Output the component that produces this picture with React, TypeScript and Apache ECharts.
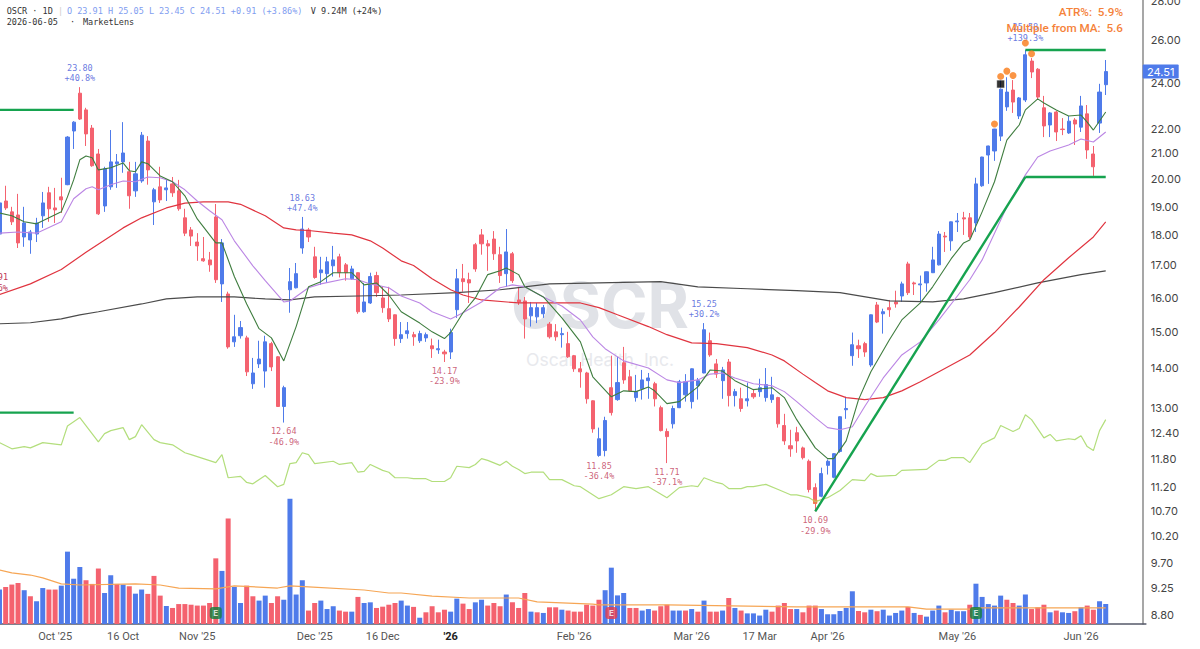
import React, { useEffect, useRef } from "react";
import * as echarts from "echarts";

// [open, high, low, close] per session, oldest first
const ohlc: number[][] = [
[18.04,19.2,17.64,19.13],[19.20,19.76,18.88,18.95],[18.81,18.99,18.35,18.46],[18.70,19.46,17.57,17.74],[17.94,18.99,17.61,18.42],
[17.84,18.18,17.38,18.11],[18.04,18.60,17.77,18.42],[18.67,19.53,18.25,19.13],[19.50,19.72,18.46,18.92],[18.95,19.68,18.42,18.88],
[19.35,20.06,18.77,19.24],[19.80,21.70,19.78,21.66],[21.91,22.32,21.18,22.28],[23.53,23.80,22.37,22.41],[22.80,22.89,21.30,21.79],
[22.03,22.16,20.48,20.52],[20.98,21.18,18.70,18.74],[19.02,20.48,18.81,20.40],[19.72,21.95,19.61,20.67],[20.60,20.98,19.68,20.67],
[20.67,22.28,20.25,21.02],[20.29,20.67,18.92,19.39],[19.57,20.67,19.35,20.21],[19.94,21.87,19.87,21.74],[21.50,21.70,19.80,20.36],
[19.17,19.68,18.35,19.61],[19.72,20.48,19.13,19.24],[19.61,19.98,19.20,19.68],[19.83,20.09,19.35,19.50],[19.57,19.98,18.85,18.92],
[18.60,18.92,17.97,18.07],[18.18,18.28,17.64,17.97],[17.77,18.07,17.15,17.64],[17.22,17.94,17.12,17.15],[17.18,17.44,16.80,17.02],
[18.63,19.09,16.45,16.55],[16.42,17.87,15.87,17.74],[16.11,16.18,14.53,14.58],[14.72,15.49,14.58,14.86],[14.89,15.31,14.81,15.12],
[14.83,14.89,13.80,13.91],[13.60,14.28,13.47,13.88],[14.12,14.75,14.01,14.25],[13.93,14.89,13.50,14.72],[14.67,14.72,13.93,14.04],
[14.31,14.33,13.02,13.03],[13.03,13.55,12.64,13.50],[16.24,16.92,15.55,16.49],[16.30,17.08,16.28,16.74],[17.57,18.63,17.38,18.21],
[18.18,18.25,17.77,17.94],[17.28,17.61,16.58,16.62],[16.77,17.28,16.39,16.86],[16.74,17.28,16.45,17.12],[16.99,17.64,16.65,17.18],
[17.28,17.38,16.62,16.77],[17.02,17.08,16.52,16.77],[16.58,16.99,16.55,16.89],[16.77,16.78,15.52,15.58],[15.58,16.45,15.55,15.87],
[15.84,16.77,15.81,16.65],[16.68,16.80,16.02,16.15],[15.99,16.33,15.55,15.70],[15.67,16.33,15.28,15.37],[15.49,15.50,14.61,14.81],
[14.81,15.28,14.69,14.92],[14.95,15.28,14.81,15.03],[14.92,15.00,14.61,14.86],[14.75,15.03,14.69,14.95],[14.83,14.98,14.72,14.92],
[14.61,14.81,14.28,14.53],[14.50,14.78,14.39,14.53],[14.44,14.50,14.17,14.39],[14.44,15.09,14.25,14.98],[15.64,16.89,15.40,16.58],
[16.58,17.05,16.18,16.49],[16.55,16.77,15.84,16.45],[17.68,17.74,16.80,16.89],[18.01,18.21,17.35,17.71],[17.71,17.84,16.83,17.64],
[17.87,18.14,17.18,17.38],[17.35,17.61,16.45,16.68],[16.74,18.21,16.33,17.44],[17.38,17.44,16.45,16.52],[15.93,16.33,15.78,15.87],
[15.90,16.02,14.81,15.37],[15.46,15.87,15.15,15.70],[15.43,15.84,15.25,15.70],[15.52,15.78,15.40,15.70],[15.22,15.28,14.81,14.86],
[15.00,15.22,14.75,14.86],[14.92,15.12,14.56,14.95],[14.67,15.00,14.28,14.31],[14.34,14.36,13.91,13.99],[13.99,14.17,13.50,13.91],
[13.88,13.91,13.10,13.22],[13.17,13.18,12.40,12.49],[11.88,12.52,11.85,12.26],[11.99,12.78,11.86,12.69],[13.50,14.34,12.81,12.88],
[13.20,14.31,13.17,13.63],[14.15,14.58,13.60,13.70],[13.78,13.96,13.40,13.42],[13.25,13.83,13.15,13.40],[13.47,13.96,13.20,13.70],
[13.68,13.88,13.22,13.75],[13.60,13.65,13.03,13.22],[13.00,13.05,12.43,12.45],[12.43,12.50,11.71,12.31],[12.61,13.05,12.50,12.98],
[13.00,13.70,12.99,13.65],[13.32,13.85,13.15,13.65],[13.15,14.00,12.98,13.99],[13.55,13.75,13.20,13.68],[13.88,15.25,13.87,15.06],
[14.75,14.98,14.31,14.36],[14.12,14.25,13.75,13.85],[13.68,14.04,13.22,13.96],[14.17,14.25,13.03,13.30],[13.30,13.47,13.03,13.40],
[13.22,13.50,12.90,12.98],[13.17,13.63,13.03,13.22],[13.35,13.47,13.22,13.27],[13.40,13.73,13.27,13.50],[13.25,14.01,13.15,13.58],
[13.20,13.78,13.12,13.32],[13.25,13.27,12.52,12.61],[12.57,12.85,12.12,12.21],[12.10,12.47,11.85,12.03],[12.40,12.54,11.94,12.21],
[12.05,12.08,11.79,11.83],[11.75,11.79,11.08,11.14],[11.18,11.27,10.69,10.85],[11.00,11.61,10.98,11.48],[11.66,11.79,11.46,11.75],
[11.40,11.93,11.38,11.92],[11.97,12.79,11.94,12.78],[12.95,13.27,12.73,12.98],[14.34,14.98,14.07,14.64],[14.61,14.78,14.28,14.53],
[14.67,14.72,14.31,14.44],[14.09,15.50,14.04,15.49],[15.78,15.87,15.25,15.28],[15.52,15.67,14.95,15.58],[15.70,15.93,15.43,15.64],
[15.87,16.21,15.70,15.81],[16.05,16.49,15.87,16.42],[17.05,17.12,16.08,16.15],[16.45,16.49,16.08,16.42],[16.39,16.68,15.87,16.42],
[16.45,16.81,16.18,16.80],[16.77,17.61,16.76,17.18],[17.02,18.14,17.00,18.04],[17.97,18.11,17.44,17.94],[17.81,18.47,17.48,18.46],
[18.46,18.77,18.11,18.49],[18.60,18.81,18.01,18.56],[18.60,18.77,17.87,17.94],[18.42,20.06,18.11,19.83],[19.76,20.87,19.72,20.86],
[20.94,21.31,19.83,21.30],[21.10,22.00,20.71,21.99],[21.70,24.16,21.50,23.71],[22.93,24.25,22.76,23.58],[23.67,24.12,22.67,23.14],
[22.54,23.36,22.41,23.32],[23.23,25.53,23.14,25.30],[25.00,25.14,24.21,24.49],[24.62,24.67,23.23,23.36],[22.89,23.41,21.66,22.12],
[22.16,22.71,21.66,22.67],[22.71,22.76,21.50,21.87],[21.99,22.45,21.74,21.97],[21.83,22.54,21.79,22.32],[22.37,22.45,21.34,22.20],
[22.07,23.41,21.87,22.97],[22.63,23.01,20.79,21.14],[20.98,21.30,20.13,20.48],[22.24,23.95,21.83,23.58],[23.91,25.05,23.45,24.51],
];

// volume in millions of shares
const volumes: number[] = [
15.9,17.1,18.2,18.9,15.6,12.8,10.5,16.6,15.9,15.9,
17.7,33.4,20.9,26.3,20.2,18.5,25.6,14.3,22.5,18.5,
18.2,17.4,14.0,15.9,13.9,22.2,13.1,8.3,7.4,9.2,
9.2,8.9,8.5,8.5,9.7,30.3,24.5,48.7,17.1,9.7,
17.7,12.8,10.8,13.1,9.7,12.8,11.2,57.8,13.6,20.2,
6.2,9.7,10.8,6.9,8.2,6.2,5.7,5.7,12.5,9.7,
10.0,7.4,8.0,8.9,9.7,10.8,8.5,7.9,2.9,5.4,
8.2,5.4,6.6,5.7,11.7,9.4,6.9,10.0,11.2,8.5,
9.7,8.2,13.6,10.0,7.4,14.3,5.7,5.4,5.1,7.7,
7.7,6.6,6.2,5.7,5.7,8.9,8.5,11.2,15.6,26.0,
13.2,14.3,7.4,7.4,6.2,6.9,6.2,8.2,8.9,6.2,
6.2,6.2,6.9,5.7,10.8,5.7,5.7,6.2,12.0,7.4,
6.2,4.9,4.9,3.9,6.6,5.7,8.5,9.7,6.9,6.9,
5.4,8.5,8.5,6.9,4.5,4.5,6.0,7.4,15.1,6.0,
5.4,6.6,5.9,6.6,3.9,5.1,6.2,7.9,5.1,4.2,
3.4,6.2,8.5,5.4,6.6,5.9,5.9,8.9,18.6,12.5,
9.2,8.5,13.1,11.2,9.7,8.5,13.6,6.9,7.7,8.9,
5.4,6.2,5.4,5.1,5.9,7.7,8.5,6.6,10.5,9.24,
];
const volumeIsUp: number[] = [
1,0,0,0,1,0,1,1,0,0,
1,1,1,1,0,0,0,1,1,0,
1,0,1,1,0,0,0,1,0,0,
0,0,0,0,0,0,1,0,1,1,
0,0,1,1,0,0,1,1,1,1,
0,0,1,1,1,0,0,1,0,1,
1,0,0,0,0,1,1,0,1,0,
0,0,0,1,1,0,0,1,1,0,
0,0,1,0,0,0,1,0,1,0,
0,1,0,0,0,0,0,0,1,1,
1,1,0,0,1,1,0,0,0,1,
1,0,1,0,1,0,0,1,0,1,
0,1,1,1,1,0,0,0,0,1,
0,0,0,1,1,1,1,1,1,0,
0,1,0,1,1,1,1,0,1,0,
1,1,1,0,1,1,1,0,1,1,
1,1,1,0,0,1,1,0,0,0,
1,0,1,1,0,1,0,0,1,1,
];

// [session index, value]
const maFast: number[][] = [[0,18.77],[2,18.67],[4,18.46],[6,18.39],[10,18.81],[11,19.35],[12,19.98],[13,20.75],[14,20.90],[15,20.83],[16,20.36],[18,20.44],[20,20.63],[21,20.33],[22,20.29],[23,20.67],[24,20.60],[26,20.13],[28,19.91],[30,19.39],[32,18.56],[35,17.74],[36,17.74],[38,16.65],[40,15.81],[42,15.09],[44,14.83],[46,14.20],[48,15.15],[50,16.33],[52,16.49],[54,16.77],[57,16.77],[59,16.39],[61,16.45],[63,16.08],[65,15.58],[68,15.25],[70,15.00],[72,14.81],[73,14.98],[75,15.55],[77,15.99],[79,16.71],[81,16.83],[82,16.92],[84,16.71],[85,16.33],[88,16.02],[91,15.40],[94,14.72],[96,13.78],[99,13.27],[101,13.42],[103,13.40],[105,13.52],[106,13.42],[108,13.10],[110,13.15],[113,13.52],[115,13.96],[117,13.93],[119,13.68],[122,13.45],[125,13.50],[127,13.25],[129,12.71],[132,12.05],[134,11.81],[135,11.81],[137,12.21],[139,13.20],[141,13.91],[144,14.78],[146,15.34],[149,15.84],[151,16.33],[154,17.22],[156,17.74],[157,17.84],[159,18.81],[161,19.91],[163,21.54],[165,22.16],[166,22.80],[168,23.28],[169,23.10],[171,22.80],[173,22.54],[175,22.58],[176,22.28],[177,21.95],[179,22.71]];
const maMid: number[][] = [[0,18.07],[3,18.11],[6,18.07],[10,18.46],[12,19.28],[14,19.65],[15,19.72],[16,19.61],[18,19.80],[20,19.94],[22,19.91],[24,20.09],[26,20.06],[28,19.91],[30,19.61],[32,19.20],[34,18.85],[36,18.53],[38,17.81],[41,16.99],[43,16.52],[46,15.87],[47,15.90],[50,16.30],[52,16.42],[56,16.58],[58,16.55],[60,16.42],[63,16.30],[65,16.05],[68,15.84],[70,15.58],[73,15.37],[75,15.55],[78,15.87],[81,16.30],[83,16.39],[85,16.33],[88,16.02],[91,15.75],[94,15.34],[96,14.86],[98,14.53],[101,14.20],[105,14.01],[108,13.70],[110,13.63],[113,13.70],[115,13.85],[117,13.88],[119,13.75],[122,13.60],[125,13.55],[127,13.40],[129,13.15],[132,12.76],[134,12.52],[136,12.47],[138,12.54],[140,13.03],[143,13.75],[146,14.36],[149,14.72],[152,15.34],[155,16.05],[157,16.55],[159,17.18],[163,18.99],[166,20.17],[168,20.86],[170,21.10],[173,21.34],[175,21.58],[177,21.46],[179,21.87]];
const maSlow: number[][] = [[0,16.09],[5,16.42],[10,16.87],[14,17.43],[20,18.25],[23,18.60],[27,18.95],[30,19.12],[33,19.17],[37,19.17],[39,19.08],[43,18.67],[46,18.25],[48,18.18],[50,18.16],[54,18.07],[57,18.01],[60,17.81],[62,17.57],[65,17.15],[67,17.00],[70,16.58],[73,16.24],[75,16.08],[78,15.93],[84,15.84],[89,15.84],[94,15.84],[97,15.70],[100,15.49],[105,15.15],[108,14.92],[112,14.69],[116,14.67],[121,14.56],[125,14.36],[127,14.20],[130,13.85],[132,13.63],[134,13.42],[137,13.25],[140,13.20],[143,13.25],[146,13.42],[149,13.65],[152,13.91],[157,14.36],[161,14.98],[165,15.72],[169,16.55],[173,17.25],[177,17.94],[179,18.46]];
const maLong: number[][] = [[0,15.23],[5,15.26],[10,15.37],[13,15.49],[16,15.58],[23,15.81],[27,15.96],[32,16.02],[38,16.02],[43,15.96],[47,15.93],[51,16.02],[58,16.05],[65,16.08],[74,16.15],[81,16.24],[89,16.42],[97,16.45],[107,16.49],[113,16.33],[121,16.27],[129,16.21],[136,16.15],[144,15.90],[151,15.87],[156,15.96],[161,16.15],[168,16.45],[175,16.71],[179,16.83]];
const relStrength: number[][] = [[0,12.17],[2,12.03],[4,12.08],[5,12.05],[7,12.17],[10,12.12],[11,12.56],[13,12.76],[16,12.19],[17,12.38],[18,12.45],[20,12.52],[21,12.24],[22,12.31],[23,12.59],[25,12.24],[26,12.17],[28,12.12],[30,11.94],[31,11.90],[33,11.81],[35,11.72],[36,11.90],[37,11.39],[39,11.42],[40,11.29],[41,11.26],[43,11.44],[45,11.20],[46,11.25],[47,11.70],[48,11.72],[49,11.94],[50,11.90],[51,11.70],[54,11.75],[55,11.68],[57,11.72],[58,11.51],[59,11.53],[60,11.68],[62,11.55],[63,11.51],[64,11.39],[66,11.39],[67,11.37],[69,11.37],[70,11.31],[72,11.31],[73,11.39],[74,11.64],[76,11.61],[77,11.68],[78,11.81],[79,11.77],[81,11.66],[82,11.75],[83,11.64],[84,11.57],[85,11.48],[86,11.51],[88,11.51],[89,11.35],[91,11.35],[93,11.22],[94,11.20],[97,10.95],[99,11.03],[101,11.20],[103,11.16],[105,11.20],[108,10.97],[110,11.18],[112,11.22],[113,11.20],[114,11.39],[116,11.29],[117,11.26],[118,11.16],[120,11.16],[121,11.20],[122,11.20],[124,11.25],[126,11.14],[128,11.03],[129,11.03],[131,10.97],[132,10.89],[134,10.97],[136,11.12],[138,11.35],[140,11.33],[141,11.48],[142,11.42],[145,11.44],[146,11.55],[150,11.57],[152,11.77],[153,11.77],[154,11.83],[156,11.83],[157,11.72],[159,12.14],[161,12.28],[162,12.57],[164,12.43],[165,12.50],[166,12.83],[167,12.71],[169,12.28],[170,12.36],[171,12.21],[173,12.26],[174,12.24],[175,12.33],[176,12.08],[177,11.99],[178,12.45],[179,12.71]];
const volumeMa: number[][] = [[0,24.9],[2,23.6],[5,22.6],[7,21.3],[10,18.5],[13,18.0],[22,18.5],[26,18.0],[29,16.6],[35,16.2],[38,17.6],[45,16.6],[47,17.6],[50,17.1],[59,15.7],[63,14.3],[65,14.3],[70,12.9],[76,12.0],[84,12.0],[87,10.2],[96,9.2],[97,8.8],[108,8.8],[129,7.9],[147,7.9],[150,6.9],[157,6.9],[159,7.4],[179,7.4]];

const trendLines: number[][][] = [
  [[0,22.80],[12,22.80]],
  [[0,12.88],[12,12.88]],
  [[132,10.69],[166,20.09]],
  [[166,20.09],[179,20.09]],
  [[166,25.53],[179,25.53]],
];

const orangeDots: number[][] = [[161,22.20],[162,24.28],[163,24.53],[164,24.33],[166,25.87],[167,25.35]];
const blackSquares: number[][] = [[162,23.94]];
const entryMarks: number[][] = [[132,10.89]];

// [session index, anchor price, price text, percent text]
const peakLabels: [number, number, string, string][] = [
  [13, 23.80, "23.80", "+40.8%"],
  [49, 18.63, "18.63", "+47.4%"],
  [114, 15.25, "15.25", "+30.2%"],
  [166, 25.70, "25.58", "+139.3%"],
];
const troughLabels: [number, number, string, string][] = [
  [46, 12.64, "12.64", "-46.9%"],
  [72, 14.17, "14.17", "-23.9%"],
  [97, 11.85, "11.85", "-36.4%"],
  [108, 11.71, "11.71", "-37.1%"],
  [132, 10.69, "10.69", "-29.9%"],
];

// [session index, colour kind]
const earnings: [number, string][] = [[35, "up"], [99, "down"], [158, "up"]];

const priceTicks = [28, 26, 24, 22, 21, 20, 19, 18, 17, 16, 15, 14, 13, 12.4, 11.8, 11.2, 10.7, 10.2, 9.7, 9.25, 8.8];
const dateLabels: Record<number, string> = {
  9: "Oct '25", 20: "16 Oct", 32: "Nov '25", 51: "Dec '25", 62: "16 Dec", 73: "'26",
  93: "Feb '26", 112: "Mar '26", 123: "17 Mar", 134: "Apr '26", 155: "May '26", 175: "Jun '26",
};
const lastClose = 24.51;
const emptySessionsRight = 6;

const BLUE = "#4f7bea";
const RED = "#f4626f";
const MONO = "'DejaVu Sans Mono', monospace";
const SANS = "Inter, 'Noto Sans', sans-serif";
const AXIS_FONT = "Roboto, sans-serif";

const lg = (p: number) => Math.log(p);
const logPairs = (pts: number[][]) => pts.map(([i, p]) => [i, lg(p)]);

function lineSeries(name: string, pts: number[][], color: string, width: number, yAxisIndex = 0, z = 4) {
  return {
    name, type: "line", data: yAxisIndex === 0 ? logPairs(pts) : pts, yAxisIndex,
    showSymbol: false, symbol: "none", smooth: false, z,
    lineStyle: { color, width }, emphasis: { disabled: true }, silent: true,
  };
}

function labelSeries(rows: [number, number, string, string][], color: string, position: string) {
  return {
    type: "scatter", symbolSize: 1, itemStyle: { color: "transparent" }, z: 6, silent: true,
    data: rows.map(([i, p, a, b]) => ({ value: [i, lg(p)], label: { formatter: a + "\n" + b } })),
    label: {
      show: true, position, distance: 3, color, fontFamily: MONO, fontSize: 8.5, lineHeight: 10.5,
      align: "center",
    },
  };
}

const text = (x: number, y: number, s: string, fill: string, extra: any = {}) => ({
  type: "text", x, y, z: 100, silent: true,
  style: { text: s, fill, font: `8.5px ${MONO}`, textVerticalAlign: "middle", ...extra },
});

export default function App() {
  const ref = useRef<HTMLDivElement>(null);
  useEffect(() => {
    document.body.style.margin = "0";
    const chart = echarts.init(ref.current!, undefined, { renderer: "svg" });
    const categories = Array.from({ length: ohlc.length + emptySessionsRight }, (_, i) => String(i));
    const option: any = {
      animation: false,
      backgroundColor: "#ffffff",
      grid: { left: -3.6, top: 0, width: 1149.5, height: 624, containLabel: false, outerBoundsMode: "none" },
      xAxis: {
        type: "category", data: categories, boundaryGap: true,
        axisLine: { lineStyle: { color: "#55596a", width: 1.5 } },
        axisTick: { show: false }, splitLine: { show: false },
        axisLabel: {
          interval: (i: number) => dateLabels[i] !== undefined,
          formatter: (_: string, i: number) => (dateLabels[i] === "'26" ? "{b|'26}" : dateLabels[i] ?? ""),
          color: "#555", fontFamily: AXIS_FONT, fontSize: 11, margin: 7,
          rich: { b: { fontWeight: "bold", color: "#222", fontFamily: AXIS_FONT, fontSize: 11 } },
        },
      },
      yAxis: [
        {
          type: "value", position: "right", offset: -3.2, min: lg(8.644), max: lg(28.053), scale: true,
          axisLine: { show: true, lineStyle: { color: "#8a8a8a", width: 1.5 } },
          axisTick: { show: false }, splitLine: { show: false },
          axisLabel: {
            customValues: priceTicks.map(lg),
            formatter: (v: number) => Math.exp(v).toFixed(2),
            color: "#444", fontFamily: SANS, fontSize: 11, margin: 8,
          },
        },
        { type: "value", min: 0, max: 288, show: false, splitLine: { show: false } },
      ],
      series: [
        {
          name: "Volume", type: "bar", yAxisIndex: 1, barWidth: 5, z: 1, silent: true,
          data: volumes.map((v, i) => ({ value: v, itemStyle: { color: volumeIsUp[i] ? BLUE : RED } })),
        },
        lineSeries("Volume MA", volumeMa, "#f6a655", 1.2, 1, 2),
        {
          name: "OSCR", type: "candlestick", barWidth: 3.6, z: 3, silent: true,
          data: ohlc.map(([o, h, l, c]) => [lg(o), lg(c), lg(l), lg(h)]),
          itemStyle: { color: BLUE, color0: RED, borderColor: BLUE, borderColor0: RED, borderWidth: 1 },
        },
        lineSeries("Relative strength", relStrength, "#b3de7c", 1.2),
        lineSeries("MA long", maLong, "#4b4b4b", 1.2),
        lineSeries("MA slow", maSlow, "#e0343f", 1.2),
        lineSeries("MA mid", maMid, "#bb86e4", 1.1),
        lineSeries("MA fast", maFast, "#3f7d3f", 1.1),
        ...trendLines.map((pts, i) => lineSeries("Trend " + i, pts, "#16a34f", 2.4, 0, 5)),
        {
          type: "scatter", symbol: "circle", symbolSize: 7, z: 7, silent: true,
          itemStyle: { color: "#f97a16" }, data: logPairs(orangeDots),
        },
        {
          type: "scatter", symbol: "rect", symbolSize: 8, z: 7, silent: true,
          itemStyle: { color: "#000", borderColor: "#fff", borderWidth: 0.8 }, data: logPairs(blackSquares),
        },
        {
          type: "scatter", symbol: "rect", symbolSize: 3.5, z: 7, silent: true,
          itemStyle: { color: "rgba(249,122,22,0.25)", borderColor: "#f0963c", borderWidth: 0.8 }, data: logPairs(entryMarks),
        },
        labelSeries(peakLabels, "#3f56d8", "top"),
        labelSeries(troughLabels, "#c03a58", "bottom"),
        {
          type: "scatter", yAxisIndex: 1, symbol: "roundRect", symbolSize: 12, z: 8, silent: true,
          data: earnings.map(([i, kind]) => ({
            value: [i, 5.1],
            itemStyle: { color: kind === "up" ? "#12803c" : "#e63c4c" },
          })),
          label: {
            show: true, position: "inside", formatter: "E", color: "#fff",
            fontFamily: SANS, fontSize: 8, fontWeight: "bold",
          },
        },
      ],
      graphic: { elements: [] },
    };
    chart.setOption(option);
    const tagY = chart.convertToPixel({ yAxisIndex: 0 }, lg(lastClose)) as number;
    chart.setOption({
      graphic: {
        elements: [
          { type: "text", x: 600, y: 305, z: 0, silent: true,
            style: { text: "OSCR", fill: "#e0e2e7", font: `bold 63px ${SANS}`, textAlign: "center", textVerticalAlign: "middle" } },
          { type: "text", x: 600, y: 359, z: 0, silent: true,
            style: { text: "Oscar Health, Inc.", fill: "#e8e9ed", font: `17.5px ${SANS}`, textAlign: "center", textVerticalAlign: "middle" } },
          text(6.7, 10.7, "OSCR · 1D", "#333"),
          text(58, 10.7, "|", "#ccc"),
          text(67, 10.7, "O 23.91 H 25.05 L 23.45 C 24.51 +0.91 (+3.86%)", "#7f9df0"),
          text(310.7, 10.7, "V 9.24M (+24%)", "#333"),
          text(6.7, 22.4, "2026-06-05", "#333"),
          text(70, 22.4, "·", "#333"),
          text(83, 22.4, "MarketLens", "#333"),
          text(8, 277, "15.91", "#c03a58", { textAlign: "right" }),
          text(8, 287.5, "-21.6%", "#c03a58", { textAlign: "right" }),
          text(1123, 11.5, "ATR%:  5.9%", "#f5823a", { font: `500 11.7px Roboto, sans-serif`, textAlign: "right" }),
          text(1123, 28, "Multiple from MA:  5.6", "#f5823a", { font: `500 11.7px Roboto, sans-serif`, textAlign: "right" }),
          { type: "rect", z: 100, silent: true, shape: { x: 1142.7, y: tagY - 7, width: 36, height: 14, r: 1 }, style: { fill: BLUE } },
          text(1160.7, tagY, lastClose.toFixed(2), "#fff", { font: `11px ${SANS}`, textAlign: "center" }),
        ],
      },
    });
    return () => chart.dispose();
  }, []);
  return <div ref={ref} style={{ width: 1200, height: 649 }} />;
}
